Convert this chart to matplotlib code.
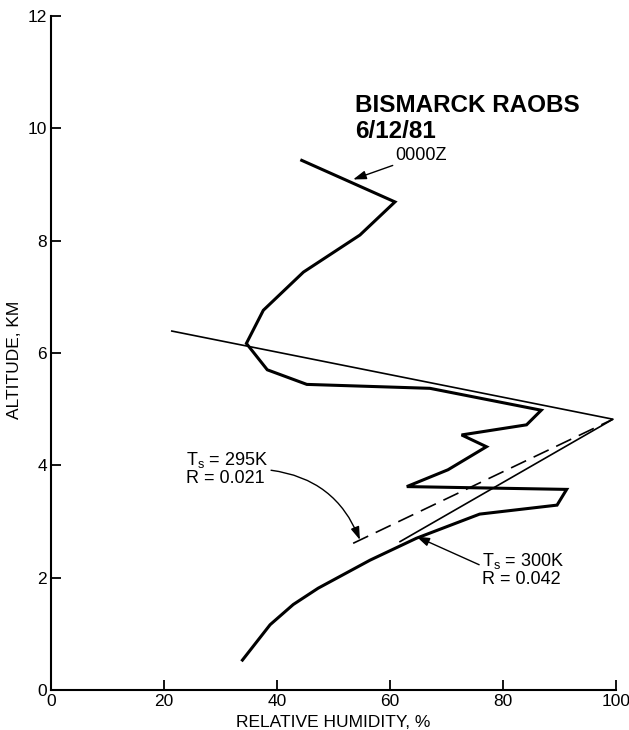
import matplotlib.pyplot as plt

plt.rcParams['font.family'] = ['Liberation Sans', 'DejaVu Sans']

# sounding at 0000Z (relative humidity %, altitude km)
rh_0000z = [44.4, 60.9, 54.7, 44.7, 37.6, 34.6, 38.3, 45.3, 67.1, 86.8, 84.2,
            72.7, 77.1, 70.3, 63.0, 91.3, 89.6, 75.9, 64.7, 56.5, 47.3, 42.9,
            38.8, 33.9]
alt_0000z = [9.43, 8.69, 8.10, 7.44, 6.76, 6.17, 5.70, 5.44, 5.37, 4.98, 4.72,
             4.54, 4.33, 3.92, 3.62, 3.57, 3.29, 3.13, 2.70, 2.31, 1.81, 1.52,
             1.16, 0.53]

# model profiles
rh_300k = [21.4, 99.5, 61.8]
alt_300k = [6.39, 4.82, 2.64]
rh_295k = [53.5, 99.5]
alt_295k = [2.61, 4.82]

xticks = [0, 20, 40, 60, 80, 100]
yticks = [0, 2, 4, 6, 8, 10, 12]

fig = plt.figure(figsize=(6.29, 7.30), dpi=100)
ax = fig.add_axes([0.081, 0.055, 0.898, 0.923])

ax.plot(rh_0000z, alt_0000z, color='black', lw=2.2, solid_joinstyle='miter')
ax.plot(rh_300k, alt_300k, color='black', lw=1.2)
ax.plot(rh_295k, alt_295k, color='black', lw=1.2, dashes=(10, 5))

ax.set_xlim(0, 100)
ax.set_ylim(0, 12)
ax.set_xticks(xticks)
ax.set_yticks(yticks)
ax.tick_params(direction='in', length=7, width=1.3, labelsize=12.5, pad=3)
for s in ['top', 'right']:
    ax.spines[s].set_visible(False)
for s in ['left', 'bottom']:
    ax.spines[s].set_linewidth(1.5)

ax.set_xlabel('RELATIVE HUMIDITY, %', fontsize=12.5, labelpad=4)
ax.set_ylabel('ALTITUDE, KM', fontsize=12.5, labelpad=2)
ax.yaxis.set_label_coords(-0.052, 0.49)

ax.text(53.8, 10.40, 'BISMARCK RAOBS', fontsize=17.5, fontweight='bold',
        va='center', ha='left')
ax.text(53.8, 9.95, '6/12/81', fontsize=17.5, fontweight='bold',
        va='center', ha='left')

arrow = dict(arrowstyle='-|>,head_length=0.6,head_width=0.2', color='black',
             lw=1.0, shrinkA=0, shrinkB=0)
ax.annotate('0000Z', xy=(53.5, 9.09), xytext=(61.0, 9.52), fontsize=13,
            va='center', ha='left', arrowprops=arrow)

ax.annotate('T$_\\mathregular{s}$ = 295K\nR = 0.021', xy=(54.7, 2.67),
            xytext=(23.9, 3.95), fontsize=13, va='center', ha='left',
            linespacing=1.0,
            arrowprops=dict(arrow, connectionstyle='arc3,rad=-0.3',
                            relpos=(1.0, 0.45)))
ax.annotate('T$_\\mathregular{s}$ = 300K\nR = 0.042', xy=(64.7, 2.73),
            xytext=(76.3, 2.14), fontsize=13, va='center', ha='left',
            linespacing=1.0,
            arrowprops=dict(arrow, relpos=(0.0, 0.6)))

fig.savefig('out.png', dpi=100)
